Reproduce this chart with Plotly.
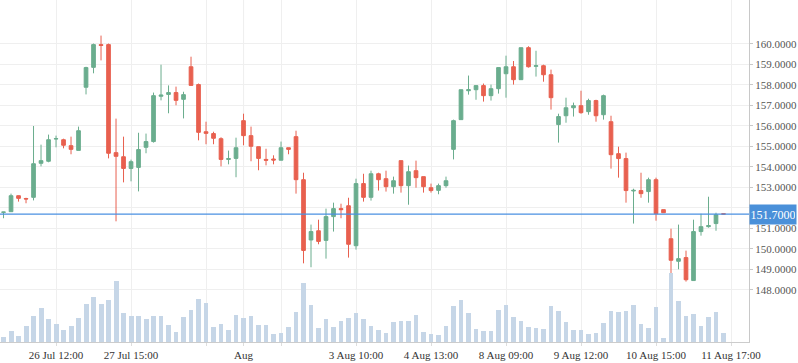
import plotly.graph_objects as go

# OHLC data (hourly bars, index based)
opens = [151.79, 151.82, 152.60, 152.46, 152.52, 154.18, 154.28, 155.37, 155.33, 155.04,
         154.81, 157.89, 158.86, 159.97, 159.97, 154.70, 154.50, 153.93, 153.98, 154.96,
         155.24, 157.45, 157.54, 157.63, 157.30, 158.89, 158.02, 155.72, 155.63, 155.38,
         154.37, 154.42, 156.26, 155.53, 154.99, 154.37, 154.39, 154.33, 154.94, 155.48,
         153.38, 150.44, 150.89, 150.42, 151.58, 151.97, 152.11, 150.16, 153.19, 152.52,
         153.67, 153.43, 153.04, 154.31, 153.09, 153.82, 153.53, 152.99, 152.86, 153.09,
         154.86, 156.31, 157.72, 157.77, 157.97, 157.48, 157.82, 158.55, 158.89, 158.26,
         159.82, 158.91, 158.94, 158.50, 156.07, 156.50, 156.89, 156.99, 156.70, 157.24,
         156.55, 156.21, 154.65, 154.41, 152.83, 152.85, 152.80, 153.38, 151.92, 150.50,
         149.40, 149.58, 148.46, 150.85, 151.09, 151.24, 151.72]
highs = [151.81, 152.70, 152.61, 152.50, 156.00, 155.09, 155.58, 155.53, 155.38, 155.48,
         155.97, 158.89, 160.02, 160.41, 160.02, 156.36, 155.48, 154.36, 155.67, 155.63,
         157.63, 158.99, 157.98, 157.92, 157.67, 159.38, 158.07, 156.21, 155.72, 155.45,
         154.80, 155.43, 156.60, 155.97, 154.99, 154.89, 154.57, 155.24, 154.94, 155.77,
         153.72, 151.19, 151.43, 151.97, 152.26, 152.21, 152.50, 153.43, 153.67, 153.82,
         153.72, 153.82, 153.53, 154.31, 154.07, 154.31, 153.53, 153.19, 153.19, 153.53,
         156.31, 157.77, 158.46, 157.97, 158.07, 158.02, 158.85, 159.43, 159.17, 159.82,
         159.89, 159.67, 158.99, 158.75, 156.60, 157.38, 157.14, 157.72, 157.33, 157.28,
         157.53, 156.50, 154.99, 154.70, 152.94, 153.72, 153.48, 153.48, 151.92, 150.99,
         151.19, 149.92, 151.43, 151.72, 152.55, 151.77, 151.72]
lows = [151.50, 151.82, 152.31, 152.23, 152.37, 154.03, 154.23, 154.96, 154.91, 154.62,
        154.81, 157.54, 158.57, 159.20, 154.42, 151.35, 153.25, 153.30, 152.81, 154.67,
        155.19, 157.25, 156.62, 157.01, 156.37, 157.98, 155.30, 155.11, 155.11, 154.03,
        154.13, 153.50, 155.06, 154.28, 153.84, 154.08, 154.13, 154.33, 154.62, 152.70,
        149.30, 149.11, 150.23, 149.53, 150.85, 151.50, 149.58, 149.97, 152.31, 152.36,
        152.85, 152.80, 152.70, 152.75, 152.16, 152.99, 152.75, 152.75, 152.67, 152.99,
        154.37, 156.31, 157.53, 157.28, 157.19, 157.24, 157.58, 157.38, 158.02, 158.26,
        158.85, 158.41, 158.16, 156.80, 155.19, 156.16, 156.46, 156.60, 156.55, 156.21,
        156.31, 153.92, 153.48, 152.26, 151.24, 152.50, 152.26, 151.38, 151.77, 147.48,
        149.01, 148.41, 148.46, 150.65, 151.04, 150.89, 151.68]
closes = [151.80, 152.60, 152.47, 152.44, 154.16, 154.31, 155.33, 155.38, 155.06, 154.86,
          155.77, 158.85, 159.97, 159.93, 154.67, 154.52, 153.93, 154.26, 154.85, 155.24,
          157.48, 157.51, 157.63, 157.25, 157.53, 157.98, 155.69, 155.64, 155.40, 154.37,
          154.41, 154.94, 155.53, 155.01, 154.42, 154.33, 154.34, 154.94, 154.86, 153.38,
          149.93, 150.85, 150.37, 151.58, 151.97, 151.92, 150.23, 153.19, 152.52, 153.67,
          153.38, 153.04, 153.33, 153.09, 153.77, 153.48, 153.04, 152.85, 153.09, 153.33,
          156.26, 157.77, 157.77, 157.97, 157.48, 157.82, 158.85, 158.89, 158.26, 159.82,
          158.89, 158.94, 158.50, 157.38, 156.46, 156.89, 156.99, 156.65, 157.24, 156.50,
          157.48, 154.60, 154.41, 152.85, 152.86, 152.70, 153.38, 151.72, 151.77, 149.45,
          149.53, 148.50, 150.85, 151.09, 151.14, 151.67, 151.70]
volumes = [14, 32, 17, 47, 77, 101, 68, 53, 35, 47, 71, 113, 134, 113, 125, 182, 86, 77, 77, 68,
           77, 77, 50, 29, 74, 95, 128, 116, 44, 53, 35, 80, 71, 77, 50, 50, 23, 26, 44, 89,
           176, 110, 41, 68, 44, 62, 71, 86, 68, 47, 35, 26, 59, 62, 62, 80, 29, 23, 20, 47,
           107, 125, 86, 38, 32, 32, 95, 110, 74, 62, 44, 41, 38, 107, 92, 59, 35, 35, 23, 26,
           56, 92, 89, 92, 110, 53, 41, 104, 11, 206, 122, 77, 83, 47, 74, 89, 26]
volumes = [v * 1000 for v in volumes]

x_idx = list(range(len(opens)))

tick_positions = [7, 17, 27, 32, 37, 47, 57, 67, 77, 87, 97]
tick_labels = ["26 Jul 12:00", "27 Jul 15:00", "", "Aug", "", "3 Aug 10:00", "4 Aug 13:00",
               "8 Aug 09:00", "9 Aug 12:00", "10 Aug 15:00", "11 Aug 17:00"]
month_marker = 32
price_ticks = list(range(148, 161))
last_price = 151.70

GREEN = "#6aad8e"
RED = "#e8604f"
VOL = "#c6d6e7"
BLUE = "#4a90e2"
FONT = "Liberation Serif"

fig = go.Figure()
fig.add_trace(go.Bar(x=x_idx, y=volumes, yaxis="y2", marker=dict(color=VOL, line=dict(width=0)),
                     width=0.66, showlegend=False, hoverinfo="skip"))
fig.add_trace(go.Candlestick(
    x=x_idx, open=opens, high=highs, low=lows, close=closes,
    increasing=dict(line=dict(color=GREEN, width=1), fillcolor=GREEN),
    decreasing=dict(line=dict(color=RED, width=1), fillcolor=RED),
    whiskerwidth=0, showlegend=False))

fig.add_shape(type="line", xref="x", yref="paper", x0=month_marker, x1=month_marker, y0=0, y1=1,
              line=dict(color="#c8c8c8", width=1), layer="below")
fig.add_shape(type="line", xref="paper", yref="y", x0=0, x1=1, y0=last_price, y1=last_price,
              line=dict(color=BLUE, width=1.3))
fig.add_annotation(xref="paper", yref="y", x=1, y=last_price, xanchor="left", yanchor="middle",
                   text=f"{last_price:.4f}", showarrow=False, bgcolor="#4a90d9",
                   font=dict(family=FONT, size=12, color="white"), width=44, height=17,
                   borderpad=1)

fig.update_layout(
    width=798, height=363,
    margin=dict(l=0, r=49, t=0, b=21),
    paper_bgcolor="white", plot_bgcolor="white",
    font=dict(family=FONT, size=11, color="#444"),
    bargap=0,
    xaxis=dict(range=[-0.47, 99.4], tickmode="array", tickvals=tick_positions, ticktext=tick_labels,
               showgrid=True, gridcolor="#efefef", gridwidth=1, zeroline=False,
               showline=True, linecolor="#cccccc", ticks="outside", ticklen=3, tickcolor="#dddddd",
               rangeslider=dict(visible=False), tickfont=dict(size=11, color="#333")),
    yaxis=dict(side="right", range=[145.463, 162.146], tickmode="array", tickvals=price_ticks,
               ticktext=["" if v == 152 else f"{v:.4f}" for v in price_ticks], showgrid=True,
               gridcolor="#efefef",
               zeroline=False, showline=True, linecolor="#c8c8c8", ticks="outside", ticklen=3,
               tickcolor="#c8c8c8", tickfont=dict(size=11, color="#555")),
    yaxis2=dict(overlaying="y", range=[0, 1026000], visible=False, showgrid=False),
)

fig.write_html("out.html", config={"displayModeBar": False},
               post_script="document.body.style.margin='0';document.body.style.overflow='hidden';")
